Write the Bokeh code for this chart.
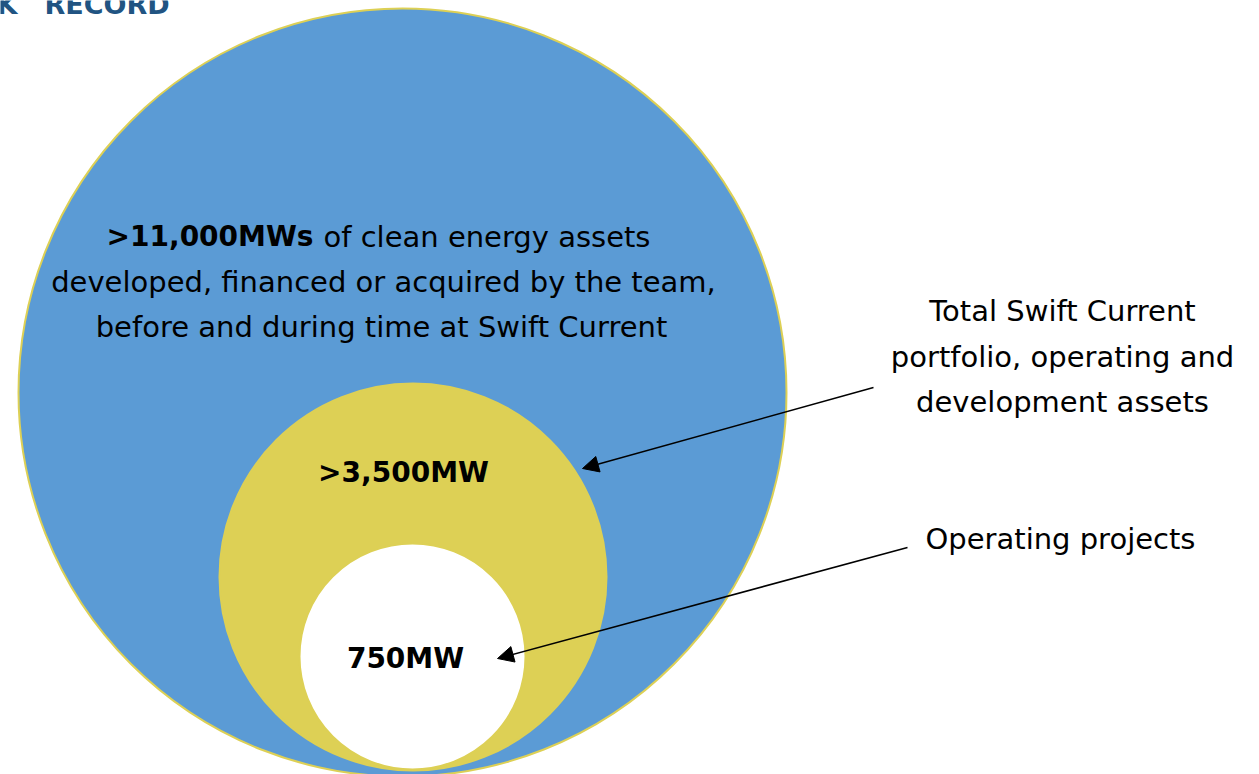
from bokeh.plotting import figure
from bokeh.models import Range1d, Arrow, NormalHead, ColumnDataSource
from bokeh.core.properties import value
from bokeh.embed import file_html
from bokeh.resources import INLINE

# ---- data ----
tiers = ["Track record", "Swift Current portfolio", "Operating"]
capacity_labels = [">11,000MWs", ">3,500MW", "750MW"]
capacity_mw = [11000, 3500, 750]
track_record_rest = "of clean energy assets"
track_record_lines = ["developed, financed or acquired by the team,",
                      "before and during time at Swift Current"]
portfolio_note = ["Total Swift Current", "portfolio, operating and", "development assets"]
operating_note = ["Operating projects"]
title_parts = ["K", "RECORD"]

# ---- layout (pixel space of the page) ----
W, H = 1259, 774
circle_cx = [402, 412.5, 412]
circle_cy = [392, 576.5, 656]
circle_r = [384, 193.5, 113]
circle_fill = ["#5B9BD5", "#DDD055", "#FFFFFF"]

FONT = "DejaVu Sans"
FS = "29px"
FSB = "28px"
DY = -9
p = figure(width=W, height=H, output_backend="svg", toolbar_location=None,
           x_range=Range1d(0, W), y_range=Range1d(H, 0), min_border=0,
           border_fill_color="white", background_fill_color="white",
           outline_line_color=None)
p.axis.visible = False
p.grid.visible = False

src = ColumnDataSource(dict(x=circle_cx, y=circle_cy, r=circle_r, c=circle_fill, tier=tiers))
p.circle(x="x", y="y", radius="r", fill_color="c", line_color="#DDD055",
         line_width=2, source=src)

# title (clipped at page edge, as in the source slide)
p.text(x=[17], y=[13 + DY], text=[title_parts[0]], text_font=value(FONT), text_font_style="bold",
       text_font_size="27px", text_color="#215482", text_align="right",
       text_baseline="alphabetic")
p.text(x=[44], y=[13 + DY], text=[title_parts[1]], text_font=value(FONT), text_font_style="bold",
       text_font_size="27px", text_color="#215482", text_align="left",
       text_baseline="alphabetic")

# big circle text
p.text(x=[313], y=[245 + DY], text=[capacity_labels[0]], text_font=value(FONT),
       text_font_style="bold", text_font_size=FSB, text_color="black",
       text_align="right", text_baseline="alphabetic")
p.text(x=[323], y=[245 + DY], text=[track_record_rest], text_font=value(FONT),
       text_font_size=FS, text_color="black", text_align="left",
       text_baseline="alphabetic")
p.text(x=[383, 381], y=[290 + DY, 335 + DY], text=track_record_lines, text_font=value(FONT),
       text_font_size=FS, text_color="black", text_align="center",
       text_baseline="alphabetic")

# middle and inner labels
p.text(x=[403, 405], y=[481 + DY, 667 + DY], text=capacity_labels[1:], text_font=value(FONT),
       text_font_style="bold", text_font_size=FSB, text_color="black",
       text_align="center", text_baseline="alphabetic")

# right notes
p.text(x=[1062, 1062, 1062], y=[319 + DY, 365 + DY, 410 + DY], text=portfolio_note,
       text_font=value(FONT), text_font_size=FS, text_color="black", text_align="center",
       text_baseline="alphabetic")
p.text(x=[925], y=[547 + DY], text=operating_note, text_font=value(FONT),
       text_font_size=FS, text_color="black", text_align="left",
       text_baseline="alphabetic")

# arrows
for (x0, y0, x1, y1) in [(873, 387, 582, 468), (907, 547, 497, 658)]:
    p.add_layout(Arrow(x_start=x0, y_start=y0, x_end=x1, y_end=y1,
                       line_color="black", line_width=1.5,
                       end=NormalHead(size=16, fill_color="black", line_color="black")))

open("out.html", "w").write(file_html(p, INLINE))
